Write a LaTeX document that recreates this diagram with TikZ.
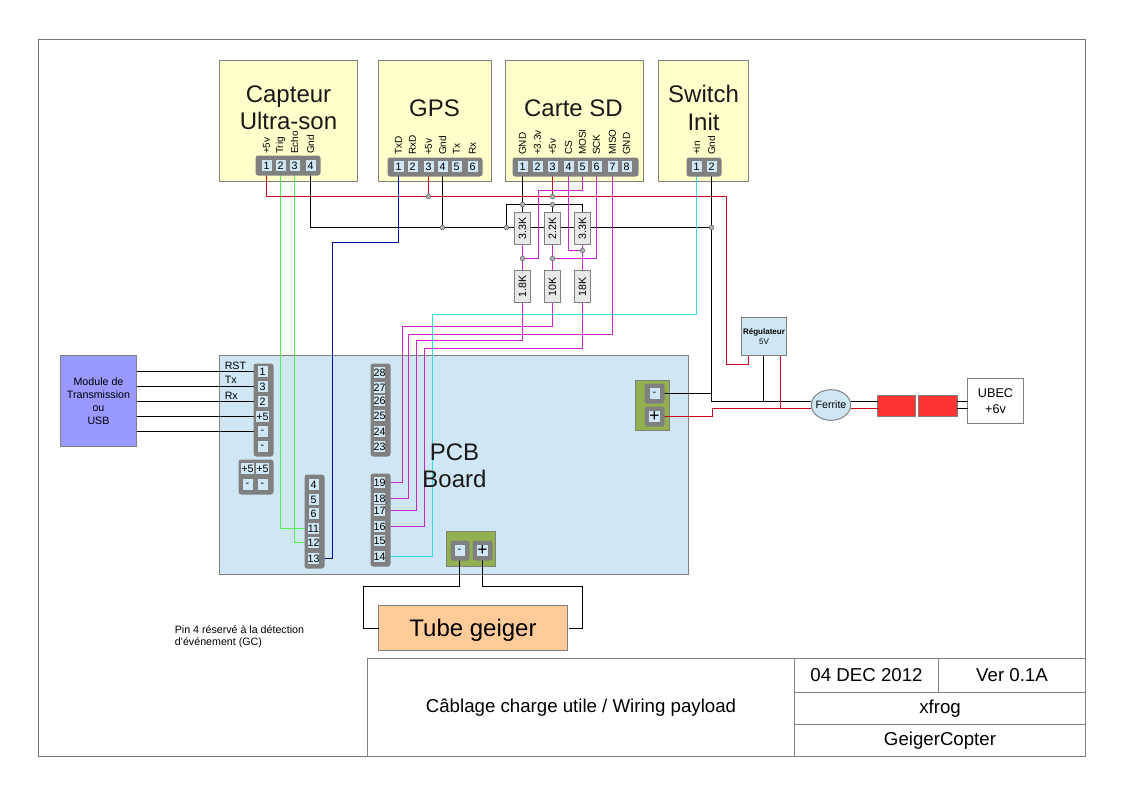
\documentclass[tikz,border=0pt]{standalone}
\usepackage{fontspec}
\setmainfont{Liberation Sans}
\usetikzlibrary{shapes.geometric}
\pgfdeclarelayer{back}
\pgfdeclarelayer{front}
\pgfsetlayers{back,main,front}
\definecolor{cyellow}{HTML}{FFFFCC}
\definecolor{cblue}{HTML}{CFE7F5}
\definecolor{cgrey}{HTML}{808080}
\definecolor{cedge}{HTML}{808080}
\definecolor{cgreen}{HTML}{92B14E}
\definecolor{cviolet}{HTML}{9999FF}
\definecolor{corange}{HTML}{FFCC99}
\definecolor{cred}{HTML}{FF3333}
\definecolor{wred}{HTML}{CC0018}
\definecolor{wgreen}{HTML}{55EE55}
\definecolor{wblue}{HTML}{000F9F}
\definecolor{wmag}{HTML}{CC22CC}
\definecolor{wcyan}{HTML}{33DDDD}
\tikzset{
  wire/.style={line width=0.85pt,draw=black},
  wr/.style={line width=1pt,draw=wred},
  wg/.style={line width=1pt,draw=wgreen},
  wb/.style={line width=1pt,draw=wblue},
  wm/.style={line width=1pt,draw=wmag},
  wc/.style={line width=1pt,draw=wcyan},
  box/.style={draw=cedge,line width=0.75pt,fill=#1,inner sep=0pt,outer sep=0pt,align=center},
  title/.style={font=\fontsize{18}{20.5}\selectfont,align=center,text=black!90,inner sep=0pt},
  strip/.style={fill=cgrey,rounded corners=2pt,draw=none},
  pin/.style={fill=cblue,inner sep=0pt,minimum width=7.5pt,minimum height=8.25pt,font=\fontsize{8}{9}\selectfont,outer sep=0pt},
  plab/.style={rotate=90,anchor=west,inner sep=0pt,font=\fontsize{7.5}{9}\selectfont},
  dot/.style={circle,fill=black!30,draw=black!55,line width=0.5pt,inner sep=0pt,minimum size=3.4pt,outer sep=0pt},
  res/.style={draw=cedge,line width=0.6pt,fill=black!9,minimum width=11.5pt,minimum height=24pt,inner sep=0pt,outer sep=0pt,font=\fontsize{8}{9}\selectfont},
  txt/.style={inner sep=0pt,font=\fontsize{8}{9.5}\selectfont,align=center},
  frame/.style={draw=black!55,line width=0.75pt},
  f14/.style={font=\fontsize{14}{16}\selectfont},
  f18/.style={font=\fontsize{18}{21}\selectfont},
  fmod/.style={font=\fontsize{8}{9.8}\selectfont},
  freg/.style={font=\fontsize{6}{7.5}\selectfont},
  fubec/.style={font=\fontsize{9.5}{11.5}\selectfont},
  fnone/.style={},
}
% box by pixel corners: name, x1, y1, x2, y2, fill, font style, text
\newcommand{\pxbox}[8]{%
  \pgfmathsetmacro{\bw}{(#4-#2)*0.75}\pgfmathsetmacro{\bh}{(#5-#3)*0.75}%
  \node[box=#6,#7,minimum width=\bw pt,minimum height=\bh pt,anchor=north west] (#1) at (#2,#3) {#8};}
\newcommand{\pxstrip}[4]{\fill[strip] (#1,#2) rectangle (#3,#4);}
\newcommand{\pinn}[4]{\node[pin] (#1) at (#2,#3) {#4};}
\begin{document}
\begin{tikzpicture}[x=0.75pt,y=-0.75pt]
\useasboundingbox (0,0) rectangle (1123,794);
\begin{pgfonlayer}{back}
  \draw[frame] (38.5,39.5) rectangle (1085.5,756.5);
  \pxbox{capteur}{219.5}{60.5}{357.5}{181.5}{cyellow}{fnone}{}
  \pxbox{gps}{378.5}{60.5}{491.5}{181.5}{cyellow}{fnone}{}
  \pxbox{sd}{505.5}{60.5}{643.5}{181.5}{cyellow}{fnone}{}
  \pxbox{switch}{658.5}{60.5}{748.5}{181.5}{cyellow}{fnone}{}
  \pxbox{pcb}{219.5}{355.5}{688.5}{574.5}{cblue}{fnone}{}
  \pxbox{module}{60.5}{355.5}{136.5}{446.5}{cviolet}{fmod}{Module de\\Transmission\\ou\\USB}
  \pxbox{regul}{741.5}{317.5}{786.5}{355.5}{cblue}{freg}{\textbf{Régulateur}\\5V}
  \pxbox{ubec}{967.5}{378.5}{1023.5}{423.5}{white}{fubec}{UBEC\\+6v}
  \pxbox{tube}{378.5}{605.5}{567.5}{650.5}{corange}{f18}{\raisebox{-6pt}[0pt][0pt]{Tube geiger}}
  \node[ellipse,draw=cedge,line width=0.75pt,fill=cblue,minimum width=29.5pt,minimum height=23pt,inner sep=0pt,outer sep=0pt] (ferrite) at (831,405) {};
  \pxbox{fuseA}{877.5}{395.5}{915.5}{416.5}{cred}{fnone}{}
  \pxbox{fuseB}{918.5}{395.5}{957}{416.5}{cred}{fnone}{}
  \pxbox{termA}{635.5}{380.5}{669.5}{430.5}{cgreen}{fnone}{}
  \pxbox{termB}{446.5}{531.5}{495.5}{566.5}{cgreen}{fnone}{}
  % title block
  \pxbox{tbmain}{367.5}{658.5}{794.5}{756.5}{white}{f14}{Câblage charge utile / Wiring payload}
  \pxbox{tbdate}{794.5}{658.5}{938.5}{692.5}{white}{f14}{04 DEC 2012}
  \pxbox{tbver}{938.5}{658.5}{1085.5}{692.5}{white}{f14}{Ver 0.1A}
  \pxbox{tbauth}{794.5}{692.5}{1085.5}{724.5}{white}{f14}{xfrog}
  \pxbox{tbproj}{794.5}{724.5}{1085.5}{756.5}{white}{f14}{GeigerCopter}
\end{pgfonlayer}
\begin{scope}[shift={(0.5,0.5)}]
\begin{pgfonlayer}{front}
  \node[title] (tcap) at (288,107.5) {Capteur\\Ultra-son};
  \node[title] (tgps) at (434,108) {GPS};
  \node[title] (tsd) at (573,108) {Carte SD};
  \node[title] (tsw) at (703,107.5) {Switch\\Init};
  \node[title] (tpcb) at (454,465) {PCB\\Board};
  \node[inner sep=0pt,font=\fontsize{8}{9}\selectfont] (lfer) at (830.5,404.5) {Ferrite};
  \node[txt,anchor=west] (lrst) at (224,365) {RST};
  \node[txt,anchor=west] (ltx) at (224,379) {Tx};
  \node[txt,anchor=west] (lrx) at (224,395) {Rx};
  \node[txt,anchor=west,align=left,font=\fontsize{8}{9.2}\selectfont] (note) at (174,636) {Pin 4 réservé à la détection\\d'événement (GC)};
  % connector strips
  \pxstrip{255}{155}{320}{175}
  \pxstrip{387}{157}{482}{176}
  \pxstrip{512}{157}{638}{176}
  \pxstrip{686}{157}{721}{176}
  \pxstrip{253}{363}{273}{456}
  \pxstrip{238}{459}{273}{494}
  \pxstrip{304}{474}{324}{568}
  \pxstrip{370}{363}{390}{456}
  \pxstrip{370}{473}{390}{566}
  \pxstrip{450}{540}{469}{560}
  \pxstrip{472}{540}{492}{560}
  \pxstrip{644}{383}{664}{403}
  \pxstrip{644}{406}{664}{426}
  % pins
  \pinn{ca}{266}{165}{1}\pinn{cb}{280}{165}{2}\pinn{cc}{294}{165}{3}\pinn{cd}{310}{165}{4}
  \pinn{ga}{398}{166}{1}\pinn{gb}{412}{166}{2}\pinn{gc}{428}{166}{3}\pinn{gd}{442}{166}{4}\pinn{ge}{456}{166}{5}\pinn{gf}{472}{166}{6}
  \pinn{sa}{522}{166}{1}\pinn{sb}{537}{166}{2}\pinn{sc}{552}{166}{3}\pinn{sd}{568}{166}{4}\pinn{se}{582}{166}{5}\pinn{sf}{596}{166}{6}\pinn{sg}{612}{166}{7}\pinn{sh}{626}{166}{8}
  \pinn{wa}{696}{166}{1}\pinn{wb}{711}{166}{2}
  \foreach \n/\y/\t in {la/371/1,lb/386/3,lc/401/2,ld/416/+5,le/431/-,lf/446/-}{\pinn{\n}{262}{\y}{\t}}
  \pinn{pa}{247}{468}{+5}\pinn{pb}{262}{468}{+5}\pinn{pc}{247}{484}{-}\pinn{pd}{262}{484}{-}
  \foreach \n/\y/\t in {m4/484/4,m5/499/5,m6/513/6,m11/528/11,m12/542/12,m13/558/13}{\pinn{\n}{313}{\y}{\t}}
  \foreach \n/\y/\t in {n28/372/28,n27/387/27,n26/400/26,n25/415/25,n24/431/24,n23/446/23,n19/482/19,n18/498/18,n17/510/17,n16/526/16,n15/540/15,n14/556/14}{\pinn{\n}{379}{\y}{\t}}
  \pinn{tm}{459}{550}{-}\pinn{tp}{482}{550}{\fontsize{13}{13}\selectfont +}
  \pinn{am}{654}{393}{-}\pinn{ap}{654}{416}{\fontsize{13}{13}\selectfont +}
  % rotated pin labels
  \foreach \a/\t in {ca/+5v,cb/Trig,cc/Echo,cd/Gnd,ga/TxD,gb/RxD,gc/+5v,gd/Gnd,ge/Tx,gf/Rx,sa/GND,sb/+3.3v,sc/+5v,sd/CS,se/MOSI,sf/SCK,sg/MISO,sh/GND,wa/+in,wb/Gnd}{
    \node[plab] (lab\a) at ([yshift=8.5pt]\a.center) {\t};}
  % resistors
  \node[res] (r1) at (522,228) {\rotatebox{90}{3.3K}};
  \node[res] (r2) at (552,228) {\rotatebox{90}{2.2K}};
  \node[res] (r3) at (582,228) {\rotatebox{90}{3.3K}};
  \node[res] (r4) at (522,286) {\rotatebox{90}{1.8K}};
  \node[res] (r5) at (552,286) {\rotatebox{90}{10K}};
  \node[res] (r6) at (582,286) {\rotatebox{90}{18K}};
  % junctions
  \node[dot] (jr1) at (428,196) {};
  \node[dot] (jr2) at (552,196) {};
  \node[dot] (jg1) at (442,227) {};
  \node[dot] (jg2) at (506,227) {};
  \node[dot] (jg3) at (711,227) {};
  \node[dot] (jt1) at (522,204) {};
  \node[dot] (jt2) at (552,204) {};
  \node[dot] (jm1) at (522,258) {};
  \node[dot] (jm2) at (552,258) {};
  \node[dot] (jm3) at (582,250) {};
\end{pgfonlayer}
% bend coordinates
\coordinate (a1) at (726,196);
\coordinate (a2) at (748,364);
\coordinate (bj) at (711,401);
\coordinate (bk) at (712,408);
\coordinate (tubeL) at (378,628);
\coordinate (tubeR) at (568,628);
% power +5 (red)
\draw[wr] (ca.center) |- (jr1) -- (jr2) -- (a1) |- (a2) -- (a2 |- regul.south);
\draw[wr] (gc.center) -- (jr1);
\draw[wr] (sc.center) -- (jr2);
% grounds (black)
\draw[wire] (cd.center) |- (jg1) -- (jg2) -- (jg3);
\draw[wire] (gd.center) -- (jg1);
\draw[wire] (sa.center) -- (r1.north);
\draw[wire] (jg2) |- (jt1) -- (jt2) -| (r3.north);
\draw[wire] (jt2) -- (r2.north);
\draw[wire] (wb.center) |- (jg3) -- (bj) -- (ferrite.west |- bj);
\draw[wire] (am.center) -- (am -| bj) -- (bj);
\draw[wire] (763,355) -- (763,401);
% red to ferrite
\draw[wr] (ap.center) -- (712,416) -- (bk) -- (ferrite.west |- bk);
\draw[wr] (780,355) -- (780,408);
% ferrite to fuses to UBEC
\draw[wire] (ferrite.east |- bj) -- (fuseA.west |- bj);
\draw[wr] (ferrite.east |- bk) -- (fuseA.west |- bk);
\draw[wire] (fuseB.east |- bj) -- (ubec.west |- bj);
\draw[wire] (fuseB.east |- bk) -- (ubec.west |- bk);
% SD magenta
\draw[wm] (se.center) |- (538,190) |- (jm1);
\draw[wm] (sd.center) |- (jm3);
\draw[wm] (sf.center) |- (jm2);
\draw[wm] (r1.south) -- (jm1) -- (r4.north);
\draw[wm] (r2.south) -- (jm2) -- (r5.north);
\draw[wm] (r3.south) -- (jm3) -- (r6.north);
\draw[wm] (r5.south) |- (402,326) |- (n19.center);
\draw[wm] (sg.center) |- (408,334) |- (n18.center);
\draw[wm] (r4.south) |- (416,340) |- (n17.center);
\draw[wm] (r6.south) |- (424,348) |- (n16.center);
% switch cyan
\draw[wc] (wa.center) |- (432,314) |- (n14.center);
% green
\draw[wg] (cb.center) |- (m11.center);
\draw[wg] (cc.center) |- (m12.center);
% blue
\draw[wb] (ga.center) |- (332,242) |- (m13.center);
% module
\draw[wire] (module.east |- la) -- (la);
\draw[wire] (module.east |- lb) -- (lb);
\draw[wire] (module.east |- lc) -- (lc);
\draw[wire] (module.east |- ld) -- (ld);
\draw[wire] (module.east |- le) -- (le);
% tube
\draw[wire] (tm.center) |- (363,586) |- (tubeL);
\draw[wire] (tp.center) |- (582,586) |- (tubeR);
\end{scope}
\end{tikzpicture}
\end{document}
